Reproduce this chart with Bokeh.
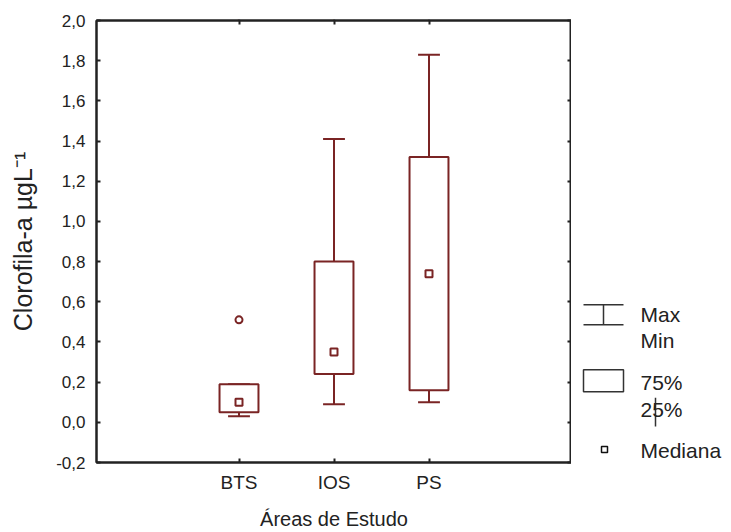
from bokeh.plotting import figure
from bokeh.layouts import row
from bokeh.models import (ColumnDataSource, FactorRange, Range1d, LinearAxis,
                          CategoricalAxis, FixedTicker, CustomJSTickFormatter)
from bokeh.transform import dodge
from bokeh.core.properties import value
from bokeh.embed import file_html
from bokeh.resources import INLINE

# Chlorophyll-a summary per study area
areas = ["BTS", "IOS", "PS"]
minimo = [0.03, 0.09, 0.10]
q25 = [0.05, 0.24, 0.16]
mediana = [0.10, 0.35, 0.74]
q75 = [0.19, 0.80, 1.32]
maximo = [0.19, 1.41, 1.83]

# outlying value
outlier_area = ["BTS"]
outlier_valor = [0.51]

# y axis ticks and their comma-decimal labels
y_ticks = [-0.2, 0.0, 0.2, 0.4, 0.6, 0.8, 1.0, 1.2, 1.4, 1.6, 1.8, 2.0]
y_tick_labels = ["-0,2", "0,0", "0,2", "0,4", "0,6", "0,8", "1,0",
                 "1,2", "1,4", "1,6", "1,8", "2,0"]

FONT = "Liberation Sans"
BOX = "#7a2424"
INK = "#222222"

src = ColumnDataSource(dict(area=areas, lo=minimo, q1=q25, med=mediana,
                            q3=q75, hi=maximo))
out_src = ColumnDataSource(dict(area=outlier_area, v=outlier_valor))

p = figure(width=571, height=532,
           x_range=FactorRange(factors=areas, range_padding=1,
                               range_padding_units="absolute"),
           y_range=Range1d(-0.2, 2.0),
           output_backend="svg", toolbar_location=None,
           x_axis_type=None, y_axis_type=None,
           min_border_left=96, min_border_right=0,
           min_border_top=20, min_border_bottom=69)
p.grid.visible = False
p.outline_line_color = INK
p.outline_line_width = 2
p.background_fill_color = "white"
p.border_fill_color = "white"

fmt = CustomJSTickFormatter(
    args=dict(yvals=y_ticks, ylabs=y_tick_labels),
    code="const i = yvals.findIndex(t => Math.abs(t - tick) < 1e-9);"
         " return i >= 0 ? ylabs[i] : '';")
blank = CustomJSTickFormatter(code="return '';")

def style_axis(ax):
    ax.axis_line_color = INK
    ax.axis_line_width = 2
    ax.major_tick_line_color = INK
    ax.major_tick_line_width = 2
    ax.major_tick_in = 4
    ax.major_tick_out = 0
    ax.minor_tick_line_color = None
    ax.major_label_text_font = FONT
    ax.major_label_text_color = INK
    ax.axis_label_text_font = FONT
    ax.axis_label_text_font_style = "normal"
    ax.axis_label_text_color = INK

left = LinearAxis(ticker=FixedTicker(ticks=y_ticks), formatter=fmt)
style_axis(left)
left.major_label_text_font_size = "17px"
left.major_label_standoff = 11
left.axis_label = "Clorofila-a µgL⁻¹"
left.axis_label_text_font_size = "25px"
left.axis_label_standoff = 16
p.add_layout(left, "left")

right = LinearAxis(ticker=FixedTicker(ticks=y_ticks), formatter=blank)
style_axis(right)
right.major_label_standoff = 0
right.major_label_text_font_size = "1px"
p.add_layout(right, "right")

bottom = CategoricalAxis()
style_axis(bottom)
bottom.major_label_text_font_size = "19px"
bottom.major_label_standoff = 9
bottom.axis_label = "Áreas de Estudo"
bottom.axis_label_text_font_size = "20px"
bottom.axis_label_standoff = 12
p.add_layout(bottom, "below")

top = CategoricalAxis(major_label_overrides={a: "" for a in areas})
style_axis(top)
top.major_label_standoff = 0
top.major_label_text_font_size = "1px"
p.add_layout(top, "above")

# whiskers
p.segment(x0="area", y0="q3", x1="area", y1="hi", source=src,
          line_color=BOX, line_width=2)
p.segment(x0="area", y0="lo", x1="area", y1="q1", source=src,
          line_color=BOX, line_width=2)
# whisker caps
for col in ("hi", "lo"):
    p.segment(x0=dodge("area", -0.115, range=p.x_range), y0=col,
              x1=dodge("area", 0.115, range=p.x_range), y1=col,
              source=src, line_color=BOX, line_width=2)
# boxes
p.vbar(x="area", width=0.41, bottom="q1", top="q3", source=src,
       fill_color="white", line_color=BOX, line_width=2)
# medians
p.scatter(x="area", y="med", source=src, marker="square", size=7,
          fill_color="white", line_color=BOX, line_width=2)
# outlier
p.scatter(x="area", y="v", source=out_src, marker="circle", size=7,
          fill_color="white", line_color=BOX, line_width=2)

# key panel (its frame shares the plot's vertical extent)
leg = figure(width=160, height=532, x_range=Range1d(0, 160),
             y_range=Range1d(463, 20), output_backend="svg",
             toolbar_location=None, x_axis_location=None,
             y_axis_location=None, min_border=0)
leg.grid.visible = False
leg.outline_line_color = None
leg.border_fill_color = "white"

KEY = "#333333"
leg.segment(x0=[12, 12, 32], y0=[305, 325, 305], x1=[52, 52, 32],
            y1=[305, 325, 325], line_color=KEY, line_width=1.5)
leg.quad(left=[12], right=[52], top=[370], bottom=[392],
         fill_color="white", line_color=KEY, line_width=1.5)
leg.segment(x0=[84], y0=[398], x1=[84], y1=[427], line_color=KEY,
            line_width=1.5)
leg.scatter(x=[33], y=[450], marker="square", size=6, fill_color="white",
            line_color="#111111", line_width=1.5)
leg.text(x=[69, 69, 69, 69, 69], y=[315, 341, 383, 410, 451],
         text=["Max", "Min", "75%", "25%", "Mediana"],
         text_font=value(FONT), text_font_size="21px", text_color=INK,
         text_baseline="middle", text_align="left")

layout = row(p, leg)
open("out.html", "w").write(file_html(layout, INLINE))
